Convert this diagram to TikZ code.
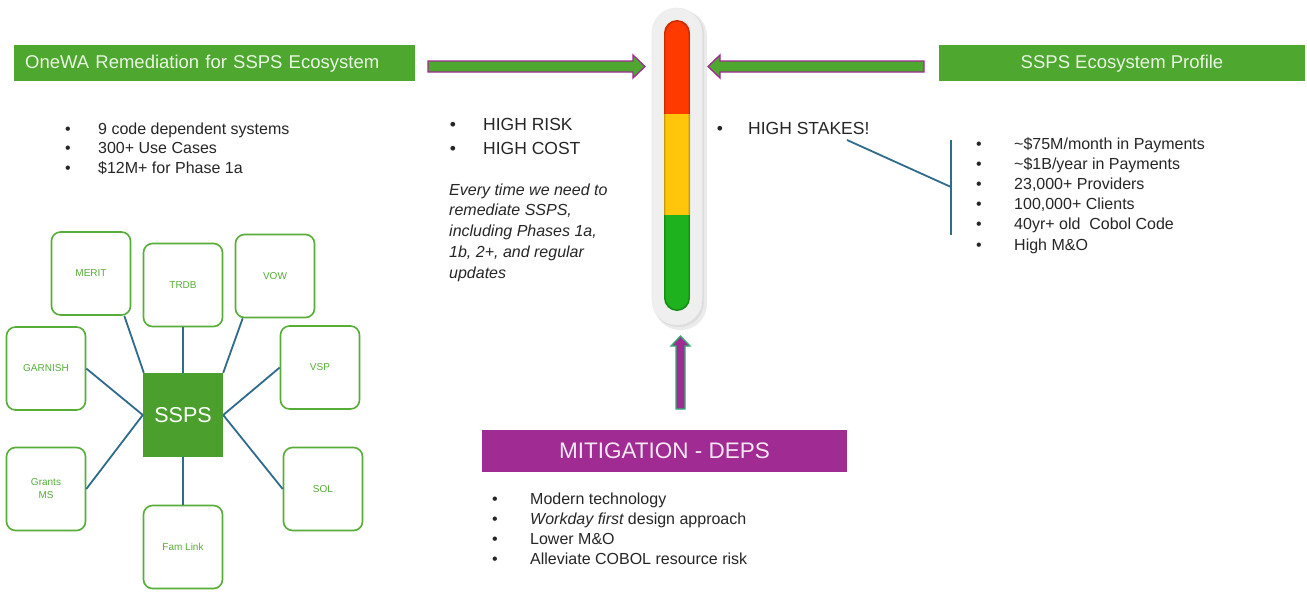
\documentclass[tikz,border=0pt]{standalone}
\usepackage{fontspec}
\setmainfont{Liberation Sans}
\definecolor{hdrgreen}{HTML}{4EA72E}
\definecolor{sysgreen}{HTML}{56AD38}
\definecolor{sspsgreen}{HTML}{4A9F2D}
\definecolor{hdrpurple}{HTML}{A02B93}
\definecolor{txt}{HTML}{262626}
\definecolor{spoke}{HTML}{2E6B8C}
\definecolor{hdrtext}{HTML}{EAF6E4}
\definecolor{mittext}{HTML}{F6E8F4}
\definecolor{arrowgreen}{HTML}{30B070}
\definecolor{gaugered}{HTML}{FF3A00}
\definecolor{gaugeyellow}{HTML}{FFC60B}
\definecolor{gaugegreen}{HTML}{1FB21F}
\definecolor{capsule}{HTML}{EFEFEF}
\begin{document}
\begin{tikzpicture}[x=1pt,y=-1pt,
  hdr/.style={fill=hdrgreen, text=hdrtext, inner sep=0pt, text height=13.5pt, text depth=3pt,
    font=\fontsize{18.5}{22}\selectfont},
  sys/.style={draw=sysgreen, line width=1.6pt, rounded corners=9pt, fill=white,
    minimum width=79pt, minimum height=83pt, inner sep=0pt, text=sysgreen,
    font=\fontsize{10}{13}\selectfont, align=center},
  bul/.style={anchor=base, inner sep=0pt, text=txt, font=\fontsize{16}{20}\selectfont},
  item/.style={anchor=base west, inner sep=0pt, text=txt, font=\fontsize{16}{20}\selectfont},
  bigbul/.style={bul, font=\fontsize{17.5}{22}\selectfont},
  bigitem/.style={item, font=\fontsize{17.5}{22}\selectfont},
  spk/.style={draw=spoke, line width=1.8pt},
  blk/.style={line width=1.3pt, line join=miter}
]
\useasboundingbox[fill=white] (0,0) rectangle (1307,592);

% headers
\node[hdr, anchor=west, minimum height=36pt, text width=379pt, inner xsep=11pt, align=left]
  (lhdr) at (14,63) {OneWA Remediation for SSPS Ecosystem};
\node[hdr, minimum width=366pt, minimum height=36pt] (rhdr) at (1122,63) {SSPS Ecosystem Profile};

% block arrows
\filldraw[blk, fill=hdrgreen, draw=hdrpurple]
  (428,61) -- (633,61) -- (633,55) -- (645,66.5) -- (633,78) -- (633,72) -- (428,72) -- cycle;
\filldraw[blk, fill=hdrgreen, draw=hdrpurple]
  (924,61) -- (720,61) -- (720,55) -- (708,66.5) -- (720,78) -- (720,72) -- (924,72) -- cycle;

% gauge
\fill[black, opacity=0.08, rounded corners=26pt] (654,10) rectangle (707,330);
\fill[black, opacity=0.06, rounded corners=25pt] (653,9) rectangle (704,327);
\filldraw[fill=capsule, draw=black!8, line width=0.6pt, rounded corners=25pt] (652,8) rectangle (702,325);
\begin{scope}
  \clip[rounded corners=13pt] (664,20) rectangle (690,311);
  \fill[gaugered] (664,20) rectangle (690,114);
  \fill[gaugeyellow] (664,114) rectangle (690,215);
  \fill[gaugegreen] (664,215) rectangle (690,311);
\end{scope}
\draw[black, opacity=0.22, line width=1.4pt, rounded corners=13pt] (664.7,20.7) rectangle (689.3,310.3);

% up arrow
\filldraw[blk, fill=hdrpurple, draw=arrowgreen]
  (676,409) -- (676,346) -- (671,346) -- (680.5,336) -- (690,346) -- (685,346) -- (685,409) -- cycle;

% mitigation header
\node[fill=hdrpurple, text=mittext, minimum width=365pt, minimum height=42pt, inner sep=0pt,
  font=\fontsize{22.5}{26}\selectfont] (mit) at (664.5,451) {MITIGATION - DEPS};

% left list
\foreach \t [count=\i] in {9 code dependent systems, 300+ Use Cases, \$12M+ for Phase 1a}{
  \node[bul] (lb\i) at (68,{134+19.5*(\i-1)}) {•};
  \node[item] (li\i) at (98,{134+19.5*(\i-1)}) {\t};
}

% high risk list
\foreach \t [count=\i] in {HIGH RISK, HIGH COST}{
  \node[bigbul] (rb\i) at (453,{130+24*(\i-1)}) {•};
  \node[bigitem] (ri\i) at (483,{130+24*(\i-1)}) {\t};
}
\foreach \t [count=\i] in {Every time we need to, {remediate SSPS,}, {including Phases 1a,}, {1b, 2+, and regular}, updates}{
  \node[item, font=\fontsize{16}{20}\selectfont\itshape] (it\i) at (449,{195+20.75*(\i-1)}) {\t};
}

% high stakes
\node[bigbul] (sb) at (720,134.5) {•};
\node[bigitem] (si) at (748,134.5) {HIGH STAKES!};
\coordinate (stk) at (847,140);
\coordinate (brtop) at (951,140);
\coordinate (brmid) at (951,187);
\coordinate (brbot) at (951,235);
\draw[spk] (stk) -- (brmid);
\draw[spk] (brtop) -- (brbot);

% profile list
\foreach \t [count=\i] in {{\textasciitilde\$75M/month in Payments}, {\textasciitilde\$1B/year in Payments}, {23,000+ Providers}, {100,000+ Clients}, {40yr+ old~ Cobol Code}, {High M\&O}}{
  \node[bul] (pb\i) at (979,{149+20.2*(\i-1)}) {•};
  \node[item] (pi\i) at (1014,{149+20.2*(\i-1)}) {\t};
}

% mitigation list
\foreach \t [count=\i] in {Modern technology, {{\itshape Workday first} design approach}, {Lower M\&O}, {Alleviate COBOL resource risk}}{
  \node[bul] (mb\i) at (495,{504+20*(\i-1)}) {•};
  \node[item] (mi\i) at (530,{504+20*(\i-1)}) {\t};
}

% hub and spokes
\node[fill=sspsgreen, minimum width=80pt, minimum height=84pt, inner sep=0pt, text=white,
  font=\fontsize{21.5}{24}\selectfont] (ssps) at (183,415) {SSPS};
\node[sys] (merit) at (91,273.5) {MERIT};
\node[sys] (trdb) at (183,285) {TRDB};
\node[sys] (vow) at (275,276) {VOW};
\node[sys] (garnish) at (46,368.5) {GARNISH};
\node[sys] (vsp) at (320,367.5) {VSP};
\node[sys] (grants) at (46,489) {Grants\\MS};
\node[sys] (sol) at (323,489) {SOL};
\node[sys] (fam) at (183,547) {Fam Link};

\draw[spk] ([xshift=-7pt]merit.south east) -- ([xshift=1pt]ssps.north west);
\draw[spk] (trdb.south) -- (ssps.north);
\draw[spk] ([xshift=8pt]vow.south west) -- (ssps.north east);
\draw[spk] (garnish.east) -- (ssps.west);
\draw[spk] (grants.east) -- (ssps.west);
\draw[spk] (vsp.west) -- (ssps.east);
\draw[spk] (sol.west) -- (ssps.east);
\draw[spk] (ssps.south) -- (fam.north);
\end{tikzpicture}
\end{document}
